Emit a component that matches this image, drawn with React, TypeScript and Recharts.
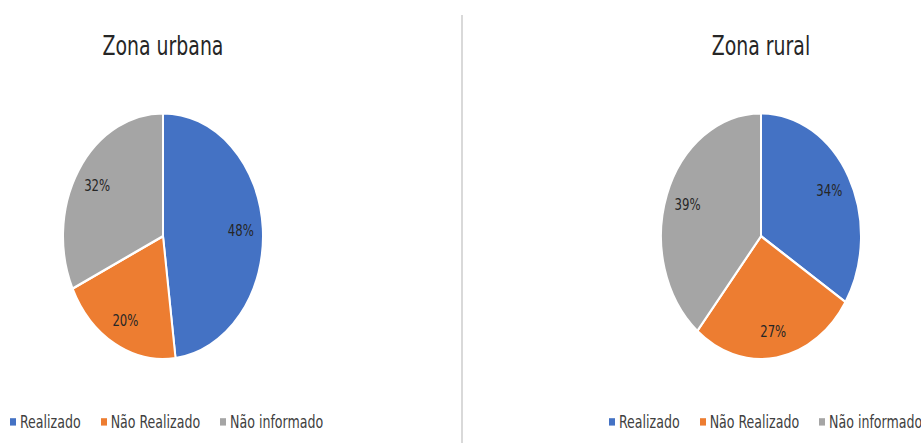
import { Cell, Legend, Pie, PieChart } from "recharts";

const categories = ["Realizado", "Não Realizado", "Não informado"];
const urbanaValues = [48, 20, 32];
const ruralValues = [34, 27, 39];
const sliceColors = ["#4472C4", "#ED7D31", "#A5A5A5"];

const FONT = "'Liberation Sans Narrow', 'DejaVu Sans Condensed', 'Open Sans', sans-serif";
const STRETCH = 1.23;
const RAD = Math.PI / 180;

function toRows(values: number[]) {
  return categories.map((name, i) => ({ name, value: values[i] }));
}

function renderLabel(props: any) {
  const { cx, cy, midAngle, outerRadius, value } = props;
  const r = outerRadius * 0.78;
  const x = cx + r * Math.cos(-midAngle * RAD);
  const y = cy + r * Math.sin(-midAngle * RAD);
  return (
    <text
      x={x}
      y={y}
      textAnchor="middle"
      dominantBaseline="central"
      fill="#262626"
      fontSize={13}
      fontFamily={FONT}
    >
      {`${value}%`}
    </text>
  );
}

function LegendRow(props: any) {
  const items = [...(props.payload || [])].sort(
    (a: any, b: any) => categories.indexOf(a.value) - categories.indexOf(b.value)
  );
  return (
    <div
      style={{
        display: "flex",
        alignItems: "center",
        whiteSpace: "nowrap",
        fontFamily: FONT,
        fontSize: 14,
        color: "#404040",
      }}
    >
      {items.map((p: any, i: number) => (
        <div key={i} style={{ display: "flex", alignItems: "center", marginRight: 20 }}>
          <span style={{ width: 6, height: 6, background: p.color, marginRight: 4, display: "inline-block" }} />
          <span>{p.value}</span>
        </div>
      ))}
    </div>
  );
}

interface PanelProps {
  title: string;
  values: number[];
  left: number;
  width: number;
  cx: number;
  legendLeft: number;
}

function Panel({ title, values, left, width, cx, legendLeft }: PanelProps) {
  return (
    <div
      style={{
        position: "absolute",
        left,
        top: 0,
        width,
        height: 360,
        transform: `scaleY(${STRETCH})`,
        transformOrigin: "0 0",
      }}
    >
      <div
        style={{
          position: "absolute",
          left: cx - 100,
          width: 200,
          top: 24,
          textAlign: "center",
          fontFamily: FONT,
          fontSize: 21,
          color: "#262626",
          lineHeight: "28px",
        }}
      >
        {title}
      </div>
      <PieChart width={width} height={360} margin={{ top: 0, right: 0, bottom: 0, left: 0 }}>
        <Pie
          data={toRows(values)}
          dataKey="value"
          nameKey="name"
          cx={cx}
          cy={192}
          outerRadius={100}
          startAngle={90}
          endAngle={-270}
          stroke="#ffffff"
          strokeWidth={2}
          label={renderLabel}
          labelLine={false}
          isAnimationActive={false}
        >
          {values.map((_, i) => (
            <Cell key={i} fill={sliceColors[i]} />
          ))}
        </Pie>
        <Legend
          content={<LegendRow />}
          wrapperStyle={{ left: legendLeft, top: 334, width: 320, lineHeight: "18px" }}
        />
      </PieChart>
    </div>
  );
}

export default function App() {
  return (
    <div style={{ position: "absolute", left: 0, top: 0, width: 921, height: 443, background: "#ffffff", overflow: "hidden" }}>
      <Panel title="Zona urbana" values={urbanaValues} left={0} width={460} cx={163} legendLeft={10} />
      <div style={{ position: "absolute", left: 461, top: 15, width: 2, height: 428, background: "#d9d9d9" }} />
      <Panel title="Zona rural" values={ruralValues} left={463} width={458} cx={298} legendLeft={146} />
    </div>
  );
}
